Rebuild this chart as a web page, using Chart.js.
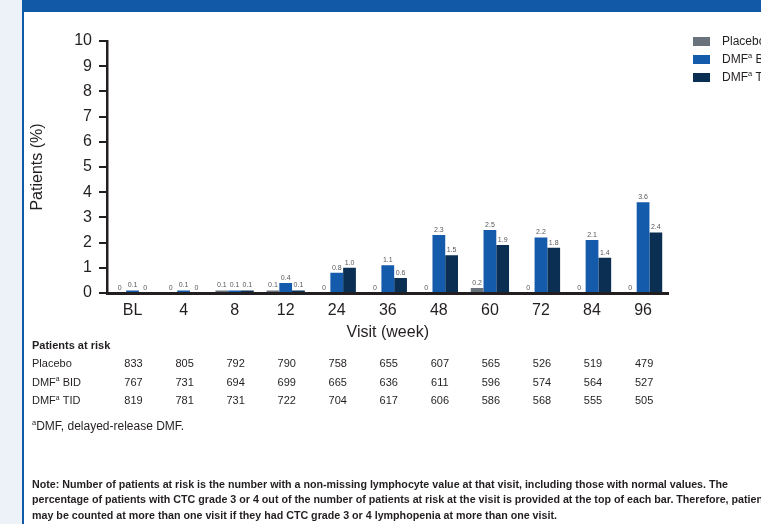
<!DOCTYPE html>
<html>
<head>
<meta charset="utf-8">
<script src="https://cdn.jsdelivr.net/npm/chart.js@4/dist/chart.umd.min.js"></script>
<style>
  html, body { margin: 0; padding: 0; }
  body { width: 761px; height: 524px; background: #edf1f8; position: relative; overflow: hidden; }
  #panel { position: absolute; left: 22px; top: 0; width: 739px; height: 524px; background: #ffffff;
           border-left: 2.5px solid #1259a8; border-top: 12px solid #1259a8; box-sizing: border-box; }
  #wrap { position: absolute; left: 0; top: 0; width: 761px; height: 524px; }
</style>
</head>
<body>
<div id="panel"></div>
<div id="wrap"><canvas id="chart" width="761" height="524"></canvas></div>
<script>
// Visits and percentage of patients with CTC grade 3/4 lymphopenia
const visits = ['BL', '4', '8', '12', '24', '36', '48', '60', '72', '84', '96'];
const seriesNames = ['Placebo', 'DMFᵃ BID', 'DMFᵃ TID'];
const placeboPct = [0, 0, 0.1, 0.1, 0, 0, 0, 0.2, 0, 0, 0];
const bidPct     = [0.1, 0.1, 0.1, 0.4, 0.8, 1.1, 2.3, 2.5, 2.2, 2.1, 3.6];
const tidPct     = [0, 0, 0.1, 0.1, 1.0, 0.6, 1.5, 1.9, 1.8, 1.4, 2.4];
const seriesColors = ['#6a737b', '#155bab', '#0a2f52'];
const yTicks = [0, 1, 2, 3, 4, 5, 6, 7, 8, 9, 10];

// Patients at risk per visit
const riskTitle = 'Patients at risk';
const riskPlacebo = [833, 805, 792, 790, 758, 655, 607, 565, 526, 519, 479];
const riskBid     = [767, 731, 694, 699, 665, 636, 611, 596, 574, 564, 527];
const riskTid     = [819, 781, 731, 722, 704, 617, 606, 586, 568, 555, 505];

const footnote = 'ᵃDMF, delayed-release DMF.';
const noteLines = [
  'Note: Number of patients at risk is the number with a non-missing lymphocyte value at that visit, including those with normal values. The',
  'percentage of patients with CTC grade 3 or 4 out of the number of patients at risk at the visit is provided at the top of each bar. Therefore, patients',
  'may be counted at more than one visit if they had CTC grade 3 or 4 lymphopenia at more than one visit.'
];

const FONT = '"Liberation Sans", Arial, Helvetica, sans-serif';
const INK = '#231f20';

// Draws text left-aligned, rendering the ᵃ marker as a raised small "a"
function drawSup(ctx, text, x, y, size, weight) {
  const parts = text.split('ᵃ');
  let cx = x;
  parts.forEach((p, i) => {
    if (i > 0) {
      const s = size * 0.62;
      ctx.font = `${weight} ${s}px ${FONT}`;
      ctx.fillText('a', cx, y - size * 0.3);
      cx += ctx.measureText('a').width;
    }
    ctx.font = `${weight} ${size}px ${FONT}`;
    ctx.fillText(p, cx, y);
    cx += ctx.measureText(p).width;
  });
}

const valueLabels = {
  id: 'valueLabels',
  afterDatasetsDraw(chart) {
    const ctx = chart.ctx;
    ctx.save();
    ctx.font = `7px ${FONT}`;
    ctx.fillStyle = '#58595b';
    ctx.textAlign = 'center';
    ctx.textBaseline = 'bottom';
    chart.data.datasets.forEach((ds, di) => {
      chart.getDatasetMeta(di).data.forEach((el, i) => {
        const v = ds.data[i];
        ctx.fillText(v === 0 ? '0' : v.toFixed(1), el.x, el.y - 1.5);
      });
    });
    ctx.restore();
  }
};

const sideLegend = {
  id: 'sideLegend',
  afterDraw(chart) {
    const ctx = chart.ctx;
    ctx.save();
    ctx.textBaseline = 'middle';
    ctx.textAlign = 'left';
    chart.data.datasets.forEach((ds, i) => {
      const y = 41.5 + i * 18;
      ctx.fillStyle = ds.backgroundColor;
      ctx.fillRect(693, y - 4.5, 17, 9);
      ctx.fillStyle = INK;
      drawSup(ctx, ds.label, 722, y, 12, 'normal');
    });
    ctx.restore();
  }
};

const riskTable = {
  id: 'riskTable',
  afterDraw(chart) {
    const ctx = chart.ctx;
    const xs = chart.scales.x;
    ctx.save();
    ctx.fillStyle = INK;
    ctx.textBaseline = 'middle';
    ctx.textAlign = 'left';
    ctx.font = `bold 11px ${FONT}`;
    ctx.fillText(riskTitle, 32, 346);
    const rows = [riskPlacebo, riskBid, riskTid];
    rows.forEach((row, r) => {
      const y = 364 + r * 18.5;
      ctx.textAlign = 'left';
      drawSup(ctx, seriesNames[r], 32, y, 11, 'normal');
      ctx.textAlign = 'center';
      ctx.font = `11px ${FONT}`;
      row.forEach((n, i) => ctx.fillText(String(n), xs.getPixelForValue(i) + 1, y));
    });
    ctx.textAlign = 'left';
    drawSup(ctx, footnote, 32, 427, 12, 'normal');
    ctx.font = `bold 10.7px ${FONT}`;
    noteLines.forEach((line, i) => ctx.fillText(line, 32, 485 + i * 15.5));
    ctx.restore();
  }
};

new Chart(document.getElementById('chart'), {
  type: 'bar',
  data: {
    labels: visits,
    datasets: [
      { label: seriesNames[0], data: placeboPct, backgroundColor: seriesColors[0] },
      { label: seriesNames[1], data: bidPct, backgroundColor: seriesColors[1] },
      { label: seriesNames[2], data: tidPct, backgroundColor: seriesColors[2] }
    ]
  },
  options: {
    responsive: false,
    animation: false,
    events: [],
    layout: { padding: { left: 24, top: 41, right: 92.4, bottom: 179 } },
    datasets: { bar: { categoryPercentage: 0.75, barPercentage: 1.0, borderWidth: 0 } },
    plugins: { legend: { display: false }, tooltip: { enabled: false } },
    scales: {
      x: {
        grid: { display: false },
        border: { display: true, width: 3, color: INK },
        ticks: { font: { family: FONT, size: 16 }, color: INK, padding: 0, maxRotation: 0 },
        title: { display: true, text: 'Visit (week)', font: { family: FONT, size: 16 }, color: INK, padding: { top: 0, bottom: 2.5 } },
        afterFit(scale) { scale.height = 52; }
      },
      y: {
        min: 0, max: 10,
        afterBuildTicks(scale) { scale.ticks = yTicks.map(v => ({ value: v })); },
        grid: { drawOnChartArea: false, drawTicks: true, tickLength: 8, lineWidth: 2, color: INK },
        border: { display: true, width: 2.5, color: INK },
        ticks: { font: { family: FONT, size: 16 }, color: INK, padding: 7 },
        title: { display: true, text: 'Patients (%)', font: { family: FONT, size: 16 }, color: INK, padding: { top: 4.4, bottom: 0 } },
        afterFit(scale) { scale.width = 83; }
      }
    }
  },
  plugins: [valueLabels, sideLegend, riskTable]
});
</script>
</body>
</html>
